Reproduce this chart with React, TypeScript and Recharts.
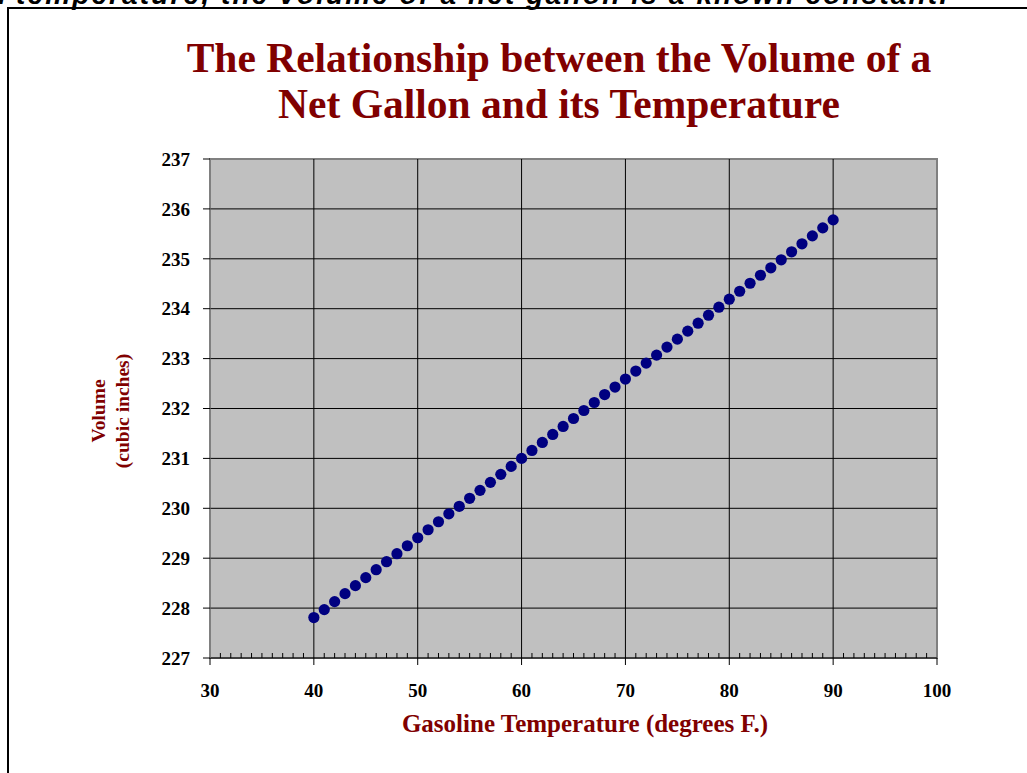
import React from 'react';
import { ScatterChart, Scatter, XAxis, YAxis, ReferenceLine, ReferenceArea } from 'recharts';

const temperatures = [
  40, 41, 42, 43, 44, 45, 46, 47, 48, 49,
  50, 51, 52, 53, 54, 55, 56, 57, 58, 59,
  60, 61, 62, 63, 64, 65, 66, 67, 68, 69,
  70, 71, 72, 73, 74, 75, 76, 77, 78, 79,
  80, 81, 82, 83, 84, 85, 86, 87, 88, 89, 90,
];
const volumes = [
  227.81, 227.97, 228.13, 228.29, 228.45, 228.61, 228.77, 228.93, 229.09, 229.25,
  229.41, 229.57, 229.73, 229.89, 230.04, 230.20, 230.36, 230.52, 230.68, 230.84,
  231.00, 231.16, 231.32, 231.48, 231.64, 231.80, 231.96, 232.12, 232.28, 232.43,
  232.59, 232.75, 232.91, 233.07, 233.23, 233.39, 233.55, 233.71, 233.87, 234.03,
  234.19, 234.35, 234.51, 234.67, 234.82, 234.98, 235.14, 235.30, 235.46, 235.62, 235.78,
];
const xMajorTicks = [30, 40, 50, 60, 70, 80, 90, 100];
const yTicks = [227, 228, 229, 230, 231, 232, 233, 234, 235, 236, 237];
const xGridLines = [40, 50, 60, 70, 80, 90];
const yGridLines = [228, 229, 230, 231, 232, 233, 234, 235, 236];

const titleLines = ['The Relationship between the Volume of a', 'Net Gallon and its Temperature'];
const xTitle = 'Gasoline Temperature (degrees F.)';
const yTitleLines = ['Volume', '(cubic inches)'];
const topTextPrefix = 'At a particular';
const topText = 'temperature, the volume of a net gallon is a known constant.';

const SERIF = '"Liberation Serif", "Times New Roman", Times, serif';
const SANS = '"Liberation Sans", Arial, sans-serif';
const DARK_RED = '#800000';

const data = temperatures.map((t, i) => ({ t, v: volumes[i] }));
const allXTicks: number[] = [];
for (let v = 30; v <= 100; v += 1) allXTicks.push(v);

const XTick = (props: any) => {
  const { x, y, payload } = props;
  const v = payload.value;
  const major = xMajorTicks.includes(v);
  return (
    <g>
      {major ? (
        <line x1={x} y1={y} x2={x} y2={y + 7} stroke="#000" strokeWidth={1} />
      ) : (
        <line x1={x} y1={y} x2={x} y2={y - 5} stroke="#000" strokeWidth={1} />
      )}
      {major && (
        <text x={x} y={y + 39} textAnchor="middle" fill="#000" fontSize={19} fontWeight="bold" fontFamily={SERIF}>
          {v}
        </text>
      )}
    </g>
  );
};

const Dot = (props: any) => {
  const { cx, cy } = props;
  return <circle cx={cx} cy={cy} r={5.6} fill="#000080" />;
};

export default function App() {
  return (
    <div style={{ position: 'fixed', left: 0, top: 0, width: 1027, height: 773, background: '#fff', overflow: 'hidden' }}>
      <ScatterChart width={1027} height={773} margin={{ top: 159, right: 90, bottom: 65, left: 140 }}>
        <ReferenceArea x1={30} x2={100} y1={227} y2={237} fill="#C0C0C0" fillOpacity={1} stroke="#808080" strokeWidth={2} ifOverflow="visible" />
        {xGridLines.map((v) => (
          <ReferenceLine key={'x' + v} x={v} stroke="#000" strokeWidth={1} />
        ))}
        {yGridLines.map((v) => (
          <ReferenceLine key={'y' + v} y={v} stroke="#000" strokeWidth={1} />
        ))}
        <XAxis
          type="number"
          dataKey="t"
          domain={[30, 100]}
          ticks={allXTicks}
          interval={0}
          tickLine={false}
          tickSize={0}
          tickMargin={0}
          axisLine={{ stroke: '#000', strokeWidth: 1 }}
          height={50}
          tick={<XTick />}
          allowDataOverflow
        />
        <YAxis
          type="number"
          dataKey="v"
          domain={[227, 237]}
          ticks={yTicks}
          interval={0}
          width={70}
          tickSize={7}
          tickMargin={13}
          tickLine={{ stroke: '#000' }}
          axisLine={{ stroke: '#808080', strokeWidth: 1 }}
          tick={{ fill: '#000', fontSize: 19, fontWeight: 'bold', fontFamily: SERIF }}
          allowDataOverflow
        />
        <Scatter data={data} fill="#000080" isAnimationActive={false} shape={<Dot />} />
      </ScatterChart>
      <svg width={1027} height={773} style={{ position: 'absolute', left: 0, top: 0, pointerEvents: 'none' }}>
        <text x={9} y={4} textAnchor="end" fontFamily={SANS} fontStyle="italic" fontWeight="bold" fontSize={28} fill="#000">
          {topTextPrefix}
        </text>
        <text x={16} y={4} textLength={931} lengthAdjust="spacing" fontFamily={SANS} fontStyle="italic" fontWeight="bold" fontSize={28} fill="#000">
          {topText}
        </text>
        <line x1={8} y1={8} x2={1027} y2={8} stroke="#000" strokeWidth={2} />
        <line x1={8} y1={7} x2={8} y2={773} stroke="#000" strokeWidth={2} />
        <text x={559} y={72} textAnchor="middle" fontFamily={SERIF} fontWeight="bold" fontSize={41.5} fill={DARK_RED}>
          {titleLines[0]}
        </text>
        <text x={559} y={118} textAnchor="middle" fontFamily={SERIF} fontWeight="bold" fontSize={41.5} fill={DARK_RED}>
          {titleLines[1]}
        </text>
        <text x={585} y={732} textAnchor="middle" fontFamily={SERIF} fontWeight="bold" fontSize={25} fill={DARK_RED}>
          {xTitle}
        </text>
        <text transform="translate(105,411) rotate(-90)" textAnchor="middle" fontFamily={SERIF} fontWeight="bold" fontSize={19.5} fill={DARK_RED}>
          {yTitleLines[0]}
        </text>
        <text transform="translate(129,411) rotate(-90)" textAnchor="middle" fontFamily={SERIF} fontWeight="bold" fontSize={19.5} fill={DARK_RED}>
          {yTitleLines[1]}
        </text>
      </svg>
    </div>
  );
}
